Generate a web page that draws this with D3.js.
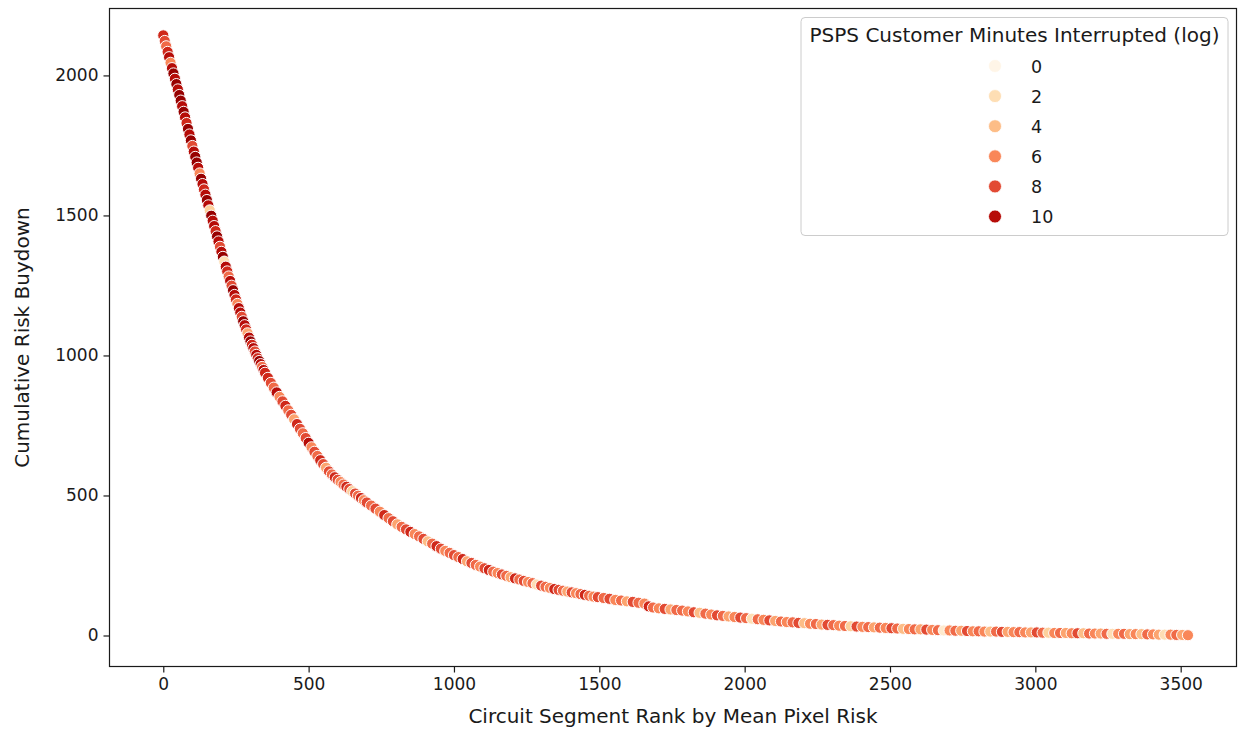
<!DOCTYPE html>
<html>
<head>
<meta charset="utf-8">
<script src="https://cdn.jsdelivr.net/npm/d3@7"></script>
<style>
  html, body { margin: 0; padding: 0; background: #fff; }
  svg text { font-family: "DejaVu Sans", sans-serif; fill: #1a1a1a; }
</style>
</head>
<body>
<svg id="chart" width="1238" height="729"></svg>
<script>
// ---- data (a subset of the ranked circuit segments) ----
const ranks = [
  0,5,10,15,20,25,30,35,40,45,50,55,60,65,70,75,80,85,90,95,
  100,105,110,115,120,125,130,135,140,145,150,155,160,165,170,175,180,185,190,195,
  200,205,210,215,220,225,230,235,240,245,250,255,260,265,270,275,280,285,290,295,
  300,305,310,315,320,325,330,335,340,345,350,
  360,370,380,390,400,410,420,430,440,450,460,470,480,490,500,510,520,530,540,550,
  560,570,580,590,600,610,620,630,640,650,660,670,680,690,700,
  715,730,745,760,775,790,805,820,835,850,865,880,895,910,925,940,955,970,985,1000,
  1015,1030,1045,1060,1075,1090,1105,1120,1135,1150,1165,1180,1195,1210,1225,1240,1255,1270,1285,1300,
  1315,1330,1345,1360,1375,1390,1405,1420,1435,1450,1465,1480,1495,
  1515,1535,1555,1575,1595,1615,1635,1655,1670,1685,
  1705,1725,1745,1765,1785,1805,1825,1845,1865,1885,1905,1925,1945,1965,1985,
  2005,2025,2045,2065,2085,2105,2125,2145,2165,2185,2205,2225,2245,2265,2285,
  2305,2325,2345,2365,2385,2405,2425,2445,2465,2485,2505,2525,2545,2565,2585,
  2605,2625,2645,2665,2685,2705,2725,2745,2765,2785,2805,2825,2845,2865,2885,
  2905,2925,2945,2965,2985,3005,3025,3045,3065,3085,3105,3125,3145,3165,3185,
  3205,3225,3245,3265,3285,3305,3325,3345,3365,3385,3405,3425,3445,3465,3485,
  3505,3525
];
const riskBuydown = [
  2143,2123,2104,2084,2065,2045,2026,2007,1988,1969,1950,1930,1910,1890,1870,1850,1830,1809,1789,1768,
  1748,1728,1709,1689,1670,1650,1631,1612,1593,1574,1555,1536,1518,1499,1481,1462,1444,1425,1407,1388,
  1370,1352,1335,1317,1300,1282,1266,1249,1233,1216,1200,1184,1169,1153,1138,1122,1108,1093,1079,1064,
  1050,1038,1026,1014,1002,990,980,969,959,948,938,
  920,902,885,868,852,836,820,804,788,772,755,738,722,705,688,672,656,641,626,612,
  599,586,575,565,556,548,539,531,523,515,507,499,491,483,475,
  464,453,442,430,419,408,397,388,379,370,362,354,345,336,328,319,310,302,295,287,
  280,273,265,259,252,246,240,234,228,223,218,213,208,204,200,195,191,187,182,178,
  174,170,166,163,160,157,154,151,148,145,142,139,137,
  134,131,127,125,122,120,117,114,104,100,
  97,95,93,91,89,86,83,81,78,75,72,70,68,66,64,
  62,60,58,56,54,52,50,48,47,45,44,42,41,39,38,
  37,35,34,33,32,31,30,29,28,27,26,25,24,23,22,
  22,21,20,19,18,18,17,17,16,15,15,14,14,14,13,
  13,12,12,11,11,11,10,10,9,9,9,8,8,8,7,
  7,7,6,6,6,6,5,5,5,4,4,3,3,3,2,
  2,1
];
const logMinutes = [
  9,8,7,9,10,6,10,11,10,11, 10,11,11,10,11,10,9,11,10,11,
  8,10,11,11,10,6,11,10,9,10, 11,10,3,11,10,10,9,11,10,8,
  10,11,2,10,9,7,10,8,11,10, 9,6,10,10,8,11,10,9,5,10,
  11,9,10,8,10,9,11,10,7,10, 9,
  9,8,7,10,6,8,9,7,8,5, 9,8,7,8,10,6,8,7,9,8,
  5,8,7,9,8,6,7,9,8,3, 8,7,9,6,8,
  7,8,6,9,7,8,5,7,8,9, 6,7,8,4,7,9,8,6,7,8,
  7,9,5,8,7,6,8,9,7,6, 8,7,5,9,7,8,6,7,2,8,
  7,6,9,8,7,5,8,6,7,9, 7,6,8,
  7,8,6,7,5,8,7,6,9,7,
  6,8,5,7,7,6,8,4,7,6, 8,7,5,6,8,
  7,2,7,6,8, 5,7,6,7,8, 4,6,7,5,8,
  7,6,7,3,8,6,7,5,7,6, 8,7,4,6,7,
  5,8,6,7,1, 6,7,5,8,6, 7,6,4,7,8,
  5,6,7,6,5,8,7,3,6,7, 5,6,8,4,7,
  6,5,7,2,6, 7,5,6,4,7, 6,5,2,6,7,
  5,6
];
const xTicks = [0, 500, 1000, 1500, 2000, 2500, 3000, 3500];
const yTicks = [0, 500, 1000, 1500, 2000];
const legendValues = [0, 2, 4, 6, 8, 10];
const legendTitle = "PSPS Customer Minutes Interrupted (log)";
const xLabel = "Circuit Segment Rank by Mean Pixel Risk";
const yLabel = "Cumulative Risk Buydown";

// ---- layout ----
const svg = d3.select("#chart");
const L = 109.5, R = 1236.5, T = 8.5, B = 666.5;

const x = d3.scaleLinear().domain([-185, 3692]).range([L, R]);
const y = d3.scaleLinear().domain([-110.7, 2239]).range([B, T]);
const color = d3.scaleSequential(d3.interpolateOrRd).domain([-0.2, 11.7]);

const points = ranks.map((r, i) => ({ r, v: riskBuydown[i], h: logMinutes[i] }));

// points
svg.append("g")
  .selectAll("circle")
  .data(points)
  .join("circle")
  .attr("cx", d => x(d.r))
  .attr("cy", d => y(d.v))
  .attr("r", 5.6)
  .attr("fill", d => color(d.h))
  .attr("stroke", "#fff")
  .attr("stroke-width", 1);

// axes
const xAxis = svg.append("g")
  .attr("transform", `translate(0,${B})`)
  .call(d3.axisBottom(x).tickValues(xTicks).tickSize(6).tickPadding(5).tickFormat(d3.format("d")));
const yAxis = svg.append("g")
  .attr("transform", `translate(${L},0)`)
  .call(d3.axisLeft(y).tickValues(yTicks).tickSize(6).tickPadding(5).tickFormat(d3.format("d")));
[xAxis, yAxis].forEach(g => {
  g.select(".domain").remove();
  g.selectAll(".tick line").attr("stroke", "#1a1a1a").attr("stroke-width", 1.2);
  g.selectAll(".tick text").attr("font-size", 17).attr("font-family", "DejaVu Sans").attr("fill", "#1a1a1a");
});

// frame
svg.append("rect")
  .attr("x", L).attr("y", T).attr("width", R - L).attr("height", B - T)
  .attr("fill", "none").attr("stroke", "#1a1a1a").attr("stroke-width", 1.2);

// axis labels
svg.append("text")
  .attr("x", (L + R) / 2).attr("y", 723)
  .attr("text-anchor", "middle").attr("font-size", 20)
  .text(xLabel);
svg.append("text")
  .attr("transform", `translate(29,${(T + B) / 2}) rotate(-90)`)
  .attr("text-anchor", "middle").attr("font-size", 20)
  .text(yLabel);

// legend
const lg = svg.append("g");
lg.append("rect")
  .attr("x", 801).attr("y", 17.5).attr("width", 427).attr("height", 218)
  .attr("rx", 4).attr("fill", "#fff").attr("fill-opacity", 0.8)
  .attr("stroke", "#cccccc").attr("stroke-width", 1);
lg.append("text")
  .attr("x", 1014.5).attr("y", 42)
  .attr("text-anchor", "middle").attr("font-size", 20)
  .text(legendTitle);
const items = lg.selectAll("g.item")
  .data(legendValues)
  .join("g")
  .attr("class", "item")
  .attr("transform", (d, i) => `translate(0,${66 + i * 30.1})`);
items.append("circle")
  .attr("cx", 995).attr("cy", 0).attr("r", 6.5)
  .attr("fill", d => color(d)).attr("stroke", "#fff").attr("stroke-width", 0.8);
items.append("text")
  .attr("x", 1031).attr("y", 6.5)
  .attr("font-size", 17.5)
  .text(d => d);
</script>
</body>
</html>
